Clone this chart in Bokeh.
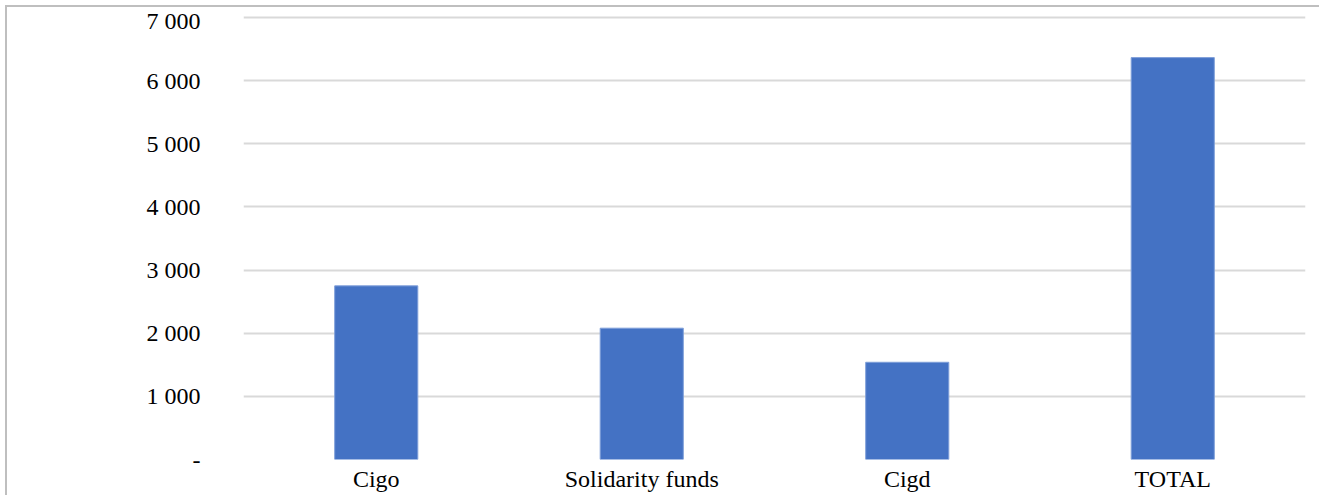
from bokeh.plotting import figure
from bokeh.models import Range1d, FactorRange, FixedTicker
from bokeh.embed import file_html
from bokeh.resources import INLINE

categories = ["Cigo", "Solidarity funds", "Cigd", "TOTAL"]
values = [2750, 2080, 1540, 6365]
y_ticks = [0, 1000, 2000, 3000, 4000, 5000, 6000, 7000]
y_tick_labels = ["-", "1 000", "2 000", "3 000", "4 000", "5 000", "6 000", "7 000"]

FONT = "Liberation Serif"

p = figure(
    x_range=FactorRange(*categories),
    y_range=Range1d(0, 7048),
    width=1314, height=490,
    output_backend="svg", toolbar_location=None,
    min_border_left=236, min_border_right=16,
    min_border_top=7, min_border_bottom=38,
)
p.margin = (5, 0, 0, 5)
p.styles = {"border-top": "2px solid #bfbfbf", "border-left": "2px solid #bfbfbf", "box-sizing": "border-box"}

p.vbar(x=categories, top=values, width=0.313, fill_color="#4472C4", line_color="#7f9fd9", line_width=1)

p.outline_line_color = None
p.background_fill_color = "white"
p.border_fill_color = "white"

p.xgrid.grid_line_color = None
p.ygrid.grid_line_color = "#d9d9d9"
p.ygrid.grid_line_width = 2
p.ygrid.ticker = FixedTicker(ticks=y_ticks)

p.yaxis.ticker = FixedTicker(ticks=y_ticks)
p.yaxis.major_label_overrides = {t: l for t, l in zip(y_ticks, y_tick_labels)}
p.yaxis.axis_line_color = None
p.yaxis.major_tick_line_color = None
p.yaxis.minor_tick_line_color = None
p.yaxis.major_tick_out = 0
p.yaxis.major_label_standoff = 43
p.yaxis.major_label_text_font = FONT
p.yaxis.major_label_text_font_size = "24px"
p.yaxis.major_label_text_color = "black"

p.xaxis.axis_line_color = None
p.xaxis.major_tick_line_color = None
p.xaxis.major_tick_out = 0
p.xaxis.major_label_standoff = 6
p.xaxis.major_label_text_font = FONT
p.xaxis.major_label_text_font_size = "24px"
p.xaxis.major_label_text_color = "black"

open("out.html", "w").write(file_html(p, INLINE))
